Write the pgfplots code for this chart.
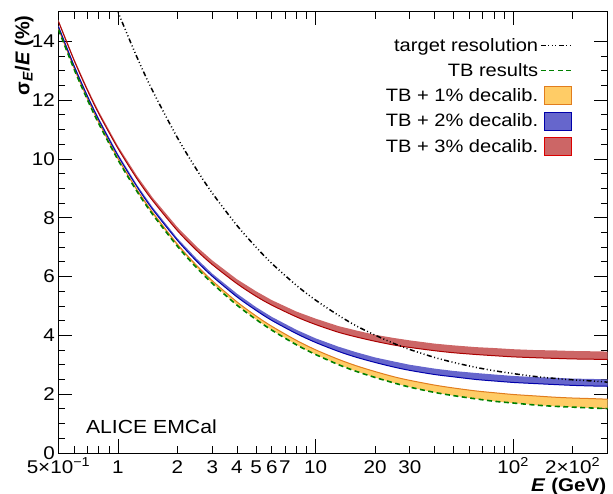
\documentclass[border=0pt]{standalone}
\usepackage{fontspec}
\setmainfont[FakeStretch=1.12]{Liberation Sans}
\newfontfamily\plainsans{Liberation Sans}
\usepackage{pgfplots}
\pgfplotsset{compat=1.18}
\usepackage{pgfplotstable}

\definecolor{orfill}{RGB}{255,204,102}
\definecolor{oredge}{RGB}{225,125,30}
\definecolor{blfill}{RGB}{102,102,204}
\definecolor{bledge}{RGB}{0,0,170}
\definecolor{rdfill}{RGB}{204,102,102}
\definecolor{rdedge}{RGB}{170,0,0}
\definecolor{rdlegedge}{RGB}{220,0,0}
\definecolor{tbgreen}{RGB}{0,128,0}

\pgfplotstableread{
E    TB    OU    BL    RL
0.5  14.40 14.44 14.50 14.67
0.6  13.05 13.09 13.16 13.35
0.7  12.02 12.06 12.14 12.34
0.8  11.20 11.25 11.33 11.54
1    9.97  10.02 10.11 10.36
1.25 8.89  8.95  9.05  9.32
1.5  8.11  8.18  8.28  8.58
2    7.03  7.10  7.23  7.56
2.5  6.30  6.38  6.52  6.89
3    5.77  5.86  6.01  6.41
4    5.03  5.14  5.31  5.76
5    4.54  4.66  4.85  5.33
6    4.18  4.31  4.51  5.03
8    3.68  3.83  4.06  4.63
10   3.35  3.51  3.76  4.37
13   3.01  3.19  3.46  4.11
16   2.78  2.97  3.26  3.95
20   2.57  2.77  3.08  3.80
25   2.38  2.59  2.92  3.67
30   2.24  2.47  2.81  3.59
40   2.06  2.31  2.67  3.48
50   1.95  2.21  2.59  3.41
65   1.84  2.11  2.50  3.35
80   1.76  2.05  2.45  3.31
100  1.70  1.99  2.40  3.27
130  1.63  1.94  2.36  3.24
160  1.59  1.90  2.33  3.22
200  1.56  1.87  2.30  3.20
250  1.53  1.85  2.28  3.19
300  1.51  1.83  2.27  3.18
}\bands

\pgfplotstableread{
E    T
0.9  15.80
1    15.00
1.25 13.45
1.5  12.31
2    10.72
2.5  9.64
3    8.84
4    7.74
5    7.00
6    6.45
8    5.70
10   5.20
13   4.69
16   4.33
20   4.01
25   3.72
30   3.52
40   3.25
50   3.08
65   2.91
80   2.80
100  2.70
130  2.60
160  2.54
200  2.49
250  2.45
300  2.41
}\target

\pgfplotsset{
  mylineleg/.style={legend image code/.code={\draw[##1] (2bp,0bp) -- (32bp,0bp);}},
  myboxleg/.style={legend image code/.code={\draw[##1] (6bp,-9bp) rectangle (33bp,9bp);}},
  targetstyle/.style={black, line width=1.5bp, dash pattern=on 5bp off 2.5bp on 1bp off 2.5bp on 1bp off 2.5bp on 1bp off 2.5bp},
  tbstyle/.style={tbgreen, line width=1.6bp, dash pattern=on 5bp off 3.5bp},
}

\begin{document}
\begin{tikzpicture}
\begin{axis}[
  at={(0,0)}, anchor=south west,
  scale only axis, width=549bp, height=441bp,
  xmode=log, xmin=0.5, xmax=300, ymin=0, ymax=15,
  axis line style={black, line width=1bp},
  tick align=inside,
  major tick length=13.5bp, minor tick length=7bp,
  tick style={black, line width=0.8bp},
  xtick={1,10,100},
  xticklabels={1,10,10\textsuperscript{\smash{2}}},
  extra x ticks={0.5,2,3,4,5,6,7,20,30,200},
  extra x tick labels={5×10\textsuperscript{\smash{−1}},2,3,4,5,6,7,20,30,2×10\textsuperscript{\smash{2}}},
  extra x tick style={major tick length=7bp},
  minor xtick={0.6,0.7,0.8,0.9,2,3,4,5,6,7,8,9,20,30,40,50,60,70,80,90,200,300},
  ytick={0,2,4,6,8,10,12,14},
  yticklabels={\smash{\raisebox{-6bp}{0}},2,4,6,8,10,12,14},
  minor y tick num=3,
  /pgf/number format/assume math mode=true,
  tick label style={font=\fontsize{18.5}{20}\selectfont, inner sep=1bp},
  xticklabel style={anchor=base, yshift=-20bp},
  yticklabel style={anchor=east, xshift=-2.5bp},
  xlabel={\textbf{\textit{E} (GeV)}},
  xlabel style={at={(axis description cs:1,0)}, anchor=base east, yshift=-38bp, inner sep=1bp, font=\fontsize{18.5}{20}\selectfont},
  ylabel={σ\textsubscript{\textit{E}}/\textit{E} (\%)},
  ylabel style={at={(axis description cs:-0.053,1)}, anchor=base east, font=\plainsans\bfseries\fontsize{20}{22}\selectfont},
  legend plot pos=right,
  legend cell align=right,
  legend style={at={(axis description cs:0.942,0.95)}, anchor=north east, draw=none, fill=none,
    font=\fontsize{18}{20}\selectfont, row sep=6.5bp},
]
\addlegendimage{mylineleg, targetstyle}
\addlegendentry{target resolution}
\addlegendimage{mylineleg, tbstyle}
\addlegendentry{TB results}
\addlegendimage{myboxleg, fill=orfill, draw=oredge, line width=1bp}
\addlegendentry{TB + 1\% decalib.}
\addlegendimage{myboxleg, fill=blfill, draw=bledge, line width=1bp}
\addlegendentry{TB + 2\% decalib.}
\addlegendimage{myboxleg, fill=rdfill, draw=rdlegedge, line width=1bp}
\addlegendentry{TB + 3\% decalib.}

% TB + 1% band (upper edge forward, TB reversed)
\addplot[fill=orfill, draw=none, forget plot] coordinates {
(0.5,14.44)(0.6,13.09)(0.7,12.06)(0.8,11.25)(1,10.02)(1.25,8.95)(1.5,8.18)(2,7.10)(2.5,6.38)(3,5.86)(4,5.14)(5,4.66)(6,4.31)(8,3.83)(10,3.51)(13,3.19)(16,2.97)(20,2.77)(25,2.59)(30,2.47)(40,2.31)(50,2.21)(65,2.11)(80,2.05)(100,1.99)(130,1.94)(160,1.90)(200,1.87)(250,1.85)(300,1.83)
(300,1.51)(250,1.53)(200,1.56)(160,1.59)(130,1.63)(100,1.70)(80,1.76)(65,1.84)(50,1.95)(40,2.06)(30,2.24)(25,2.38)(20,2.57)(16,2.78)(13,3.01)(10,3.35)(8,3.68)(6,4.18)(5,4.54)(4,5.03)(3,5.77)(2.5,6.30)(2,7.03)(1.5,8.11)(1.25,8.89)(1,9.97)(0.8,11.20)(0.7,12.02)(0.6,13.05)(0.5,14.40)
} -- cycle;
% TB + 2% band
\addplot[fill=blfill, draw=none, forget plot] coordinates {
(0.5,14.54)(0.6,13.20)(0.7,12.18)(0.8,11.38)(1,10.17)(1.25,9.11)(1.5,8.35)(2,7.30)(2.5,6.61)(3,6.10)(4,5.42)(5,4.96)(6,4.63)(8,4.19)(10,3.90)(13,3.62)(16,3.43)(20,3.25)(25,3.11)(30,3.00)(40,2.87)(50,2.79)(65,2.72)(80,2.67)(100,2.62)(130,2.58)(160,2.56)(200,2.53)(250,2.52)(300,2.50)
(300,2.27)(250,2.28)(200,2.30)(160,2.33)(130,2.36)(100,2.40)(80,2.45)(65,2.50)(50,2.59)(40,2.67)(30,2.81)(25,2.92)(20,3.08)(16,3.26)(13,3.46)(10,3.76)(8,4.06)(6,4.51)(5,4.85)(4,5.31)(3,6.01)(2.5,6.52)(2,7.23)(1.5,8.28)(1.25,9.05)(1,10.11)(0.8,11.33)(0.7,12.14)(0.6,13.16)(0.5,14.50)
} -- cycle;
% TB + 3% band
\addplot[fill=rdfill, draw=none, forget plot] coordinates {
(0.5,14.73)(0.6,13.41)(0.7,12.41)(0.8,11.62)(1,10.44)(1.25,9.42)(1.5,8.68)(2,7.68)(2.5,7.02)(3,6.55)(4,5.91)(5,5.50)(6,5.20)(8,4.81)(10,4.57)(13,4.32)(16,4.17)(20,4.02)(25,3.91)(30,3.83)(40,3.72)(50,3.66)(65,3.60)(80,3.57)(100,3.53)(130,3.50)(160,3.49)(200,3.47)(250,3.46)(300,3.45)
(300,3.18)(250,3.19)(200,3.20)(160,3.22)(130,3.24)(100,3.27)(80,3.31)(65,3.35)(50,3.41)(40,3.48)(30,3.59)(25,3.67)(20,3.80)(16,3.95)(13,4.11)(10,4.37)(8,4.63)(6,5.03)(5,5.33)(4,5.76)(3,6.41)(2.5,6.89)(2,7.56)(1.5,8.58)(1.25,9.32)(1,10.36)(0.8,11.54)(0.7,12.34)(0.6,13.35)(0.5,14.67)
} -- cycle;

\addplot[oredge, line width=1bp, smooth, forget plot] table[x=E, y=OU]{\bands};
\addplot[bledge, line width=1bp, smooth, forget plot] table[x=E, y=BL]{\bands};
\addplot[rdedge, line width=1bp, smooth, forget plot] table[x=E, y=RL]{\bands};
\addplot[tbstyle, smooth, forget plot] table[x=E, y=TB]{\bands};
\addplot[targetstyle, smooth, forget plot] table[x=E, y=T]{\target};

\node[anchor=base west, font=\fontsize{19}{21}\selectfont] at (axis description cs:0.0437,0.045) {ALICE EMCal};
\end{axis}
\pgfresetboundingbox
\useasboundingbox (-58.5bp,-41bp) rectangle (554.5bp,453bp);
\end{tikzpicture}
\end{document}
